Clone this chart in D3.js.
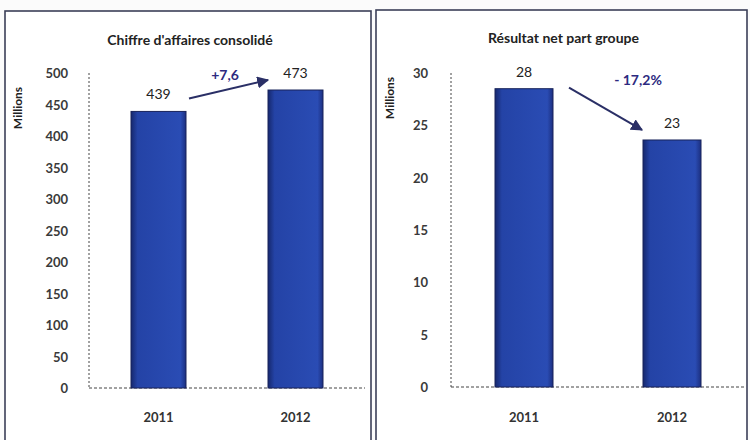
<!DOCTYPE html>
<html><head><meta charset="utf-8">
<script src="https://cdn.jsdelivr.net/npm/d3@7"></script>
<style>
html,body{margin:0;padding:0;background:#fbfbfb;}
svg{display:block;font-family:Lato,"Open Sans",sans-serif;}
</style></head>
<body>
<svg id="c" width="750" height="440"></svg>
<script>
const years = ["2011", "2012"];
const caValues = [439, 473];
const caLabels = ["439", "473"];
const caTicks = [0, 50, 100, 150, 200, 250, 300, 350, 400, 450, 500];
const caTitle = "Chiffre d'affaires consolidé";
const caChange = "+7,6";
const rnValues = [28.5, 23.6];
const rnLabels = ["28", "23"];
const rnTicks = [0, 5, 10, 15, 20, 25, 30];
const rnTitle = "Résultat net part groupe";
const rnChange = "- 17,2%";
const unitLabel = "Millions";

const svg = d3.select("#c");
const defs = svg.append("defs");
defs.append("marker").attr("id", "ah").attr("viewBox", "0 0 10 10")
  .attr("refX", 9).attr("refY", 5).attr("markerWidth", 6).attr("markerHeight", 6)
  .attr("orient", "auto")
  .append("path").attr("d", "M0,0 L10,5 L0,10 z").attr("fill", "#2a2f66");
const grad = defs.append("linearGradient").attr("id", "bg").attr("x1", 0).attr("x2", 1);
grad.append("stop").attr("offset", "0").attr("stop-color", "#16286e");
grad.append("stop").attr("offset", "0.12").attr("stop-color", "#2443a6");
grad.append("stop").attr("offset", "0.9").attr("stop-color", "#2a4cb4");
grad.append("stop").attr("offset", "1").attr("stop-color", "#1c2f80");

const panels = [
  {values: caValues, labels: caLabels, ticks: caTicks, title: caTitle, change: caChange,
   box: [5, 11, 366, 440], axisX: 89, right: 365, y0: 388, y1: 73, bars: [131, 268], bw: 55,
   unitX: 18, unitY: 108, tickX: 68, titleY: 45, changeArrow: "up"},
  {values: rnValues, labels: rnLabels, ticks: rnTicks, title: rnTitle, change: rnChange,
   box: [376, 10, 371, 440], axisX: 451, right: 745, y0: 387, y1: 73, bars: [495, 643], bw: 58,
   unitX: 390, unitY: 98, tickX: 428, titleY: 43, changeArrow: "down"}
];

panels.forEach(p => {
  const g = svg.append("g");
  g.append("rect").attr("x", p.box[0]).attr("y", p.box[1]).attr("width", p.box[2]).attr("height", p.box[3])
    .attr("fill", "#fff").attr("stroke", "#3b3f58").attr("stroke-width", 1.6);
  const titleX = p.box[0] + p.box[2] / 2 + 2;
  g.append("text").attr("x", titleX).attr("y", p.titleY).attr("text-anchor", "middle")
    .attr("font-size", 14).attr("font-weight", "bold").attr("fill", "#222").text(p.title);

  const ymax = p.ticks[p.ticks.length - 1];
  const y = d3.scaleLinear().domain([0, ymax]).range([p.y0, p.y1]);
  const x = d3.scalePoint().domain(years).range([p.bars[0] + p.bw / 2, p.bars[1] + p.bw / 2]);

  const yAxis = d3.axisLeft(y).tickValues(p.ticks).tickSize(0).tickPadding(0);
  const ya = g.append("g").attr("transform", `translate(${p.tickX},0)`).call(yAxis);
  ya.select(".domain").remove();
  ya.selectAll("text").attr("font-family", "Lato, sans-serif").attr("font-size", 13)
    .attr("fill", "#3a3a3a").attr("font-weight", "bold").attr("dy", "0.35em");

  g.append("line").attr("x1", p.axisX).attr("x2", p.axisX).attr("y1", y(ymax)).attr("y2", p.y0)
    .attr("stroke", "#444").attr("stroke-width", 1).attr("stroke-dasharray", "2,2");
  g.append("line").attr("x1", p.axisX).attr("x2", p.right).attr("y1", p.y0).attr("y2", p.y0)
    .attr("stroke", "#444").attr("stroke-width", 1).attr("stroke-dasharray", "3,2");

  g.selectAll(".bar").data(p.values).join("rect")
    .attr("x", (d, i) => x(years[i]) - p.bw / 2).attr("width", p.bw)
    .attr("y", d => y(d)).attr("height", d => p.y0 - y(d))
    .attr("fill", "url(#bg)").attr("stroke", "#18235a").attr("stroke-width", 1);

  g.selectAll(".vl").data(p.values).join("text")
    .attr("x", (d, i) => x(years[i])).attr("y", d => y(d) - 12)
    .attr("text-anchor", "middle").attr("font-size", 14).attr("fill", "#222")
    .text((d, i) => p.labels[i]);

  g.selectAll(".xl").data(years).join("text")
    .attr("x", d => x(d)).attr("y", 422).attr("text-anchor", "middle")
    .attr("font-size", 13).attr("font-weight", "bold").attr("fill", "#333").text(d => d);

  g.append("text").attr("transform", `translate(${p.unitX + 4},${p.unitY}) rotate(-90)`)
    .attr("text-anchor", "middle").attr("font-size", 12).attr("font-weight", "bold")
    .attr("fill", "#222").text(unitLabel);

  const x0 = x(years[0]) + p.bw / 2, x1 = x(years[1]) - p.bw / 2;
  let a;
  if (p.changeArrow === "up") {
    a = {sx: x0 + 3, sy: y(p.values[0]) - 13, ex: x1, ey: y(p.values[1]) - 10, tx: (x0 + x1) / 2 - 2, ty: y(p.values[1]) - 10};
  } else {
    a = {sx: x0 + 16, sy: y(p.values[0]) - 1, ex: x1 - 1, ey: y(p.values[1]) - 10, tx: (x0 + x1) / 2 + 40, ty: y(p.values[0]) - 4};
  }
  g.append("line").attr("x1", a.sx).attr("y1", a.sy).attr("x2", a.ex).attr("y2", a.ey)
    .attr("stroke", "#2a2f66").attr("stroke-width", 2).attr("marker-end", "url(#ah)");
  g.append("text").attr("x", a.tx).attr("y", a.ty).attr("text-anchor", "middle")
    .attr("font-size", 14).attr("font-weight", "bold").attr("fill", "#2d2a80").text(p.change);
});
</script>
</body></html>
